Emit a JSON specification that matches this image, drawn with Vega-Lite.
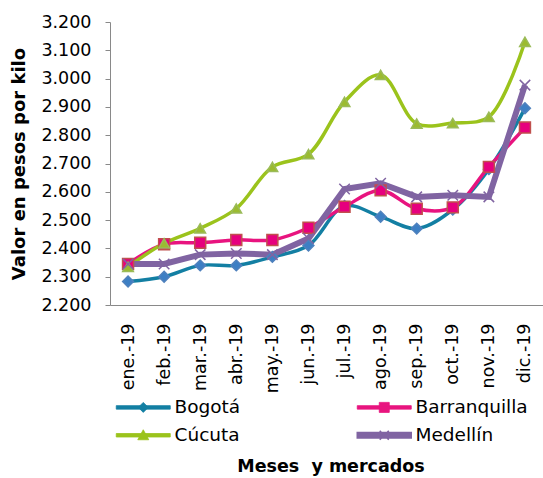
{
  "$schema": "https://vega.github.io/schema/vega-lite/v6.json",
  "autosize": {"type": "none"},
  "padding": {"left": 110, "top": 22, "right": 0, "bottom": 173},
  "width": 433,
  "height": 283,
  "background": "white",
  "config": {
    "view": {"stroke": null},
    "font": "DejaVu Sans",
    "axis": {"grid": false, "domainColor": "#898989", "tickColor": "#898989", "labelFont": "DejaVu Sans", "labelColor": "#000000", "titleColor": "#000000", "titleFont": "DejaVu Sans"},
    "legend": {"labelFont": "DejaVu Sans", "titleFont": "DejaVu Sans"}
  },
  "data": {
    "values": [
      {"mes": "ene.-19", "mercado": "Bogotá", "valor": 2283},
      {"mes": "feb.-19", "mercado": "Bogotá", "valor": 2300},
      {"mes": "mar.-19", "mercado": "Bogotá", "valor": 2340},
      {"mes": "abr.-19", "mercado": "Bogotá", "valor": 2340},
      {"mes": "may.-19", "mercado": "Bogotá", "valor": 2370},
      {"mes": "jun.-19", "mercado": "Bogotá", "valor": 2410},
      {"mes": "jul.-19", "mercado": "Bogotá", "valor": 2550},
      {"mes": "ago.-19", "mercado": "Bogotá", "valor": 2512},
      {"mes": "sep.-19", "mercado": "Bogotá", "valor": 2470},
      {"mes": "oct.-19", "mercado": "Bogotá", "valor": 2537},
      {"mes": "nov.-19", "mercado": "Bogotá", "valor": 2680},
      {"mes": "dic.-19", "mercado": "Bogotá", "valor": 2895},
      {"mes": "ene.-19", "mercado": "Barranquilla", "valor": 2345},
      {"mes": "feb.-19", "mercado": "Barranquilla", "valor": 2415},
      {"mes": "mar.-19", "mercado": "Barranquilla", "valor": 2420},
      {"mes": "abr.-19", "mercado": "Barranquilla", "valor": 2430},
      {"mes": "may.-19", "mercado": "Barranquilla", "valor": 2430},
      {"mes": "jun.-19", "mercado": "Barranquilla", "valor": 2473},
      {"mes": "jul.-19", "mercado": "Barranquilla", "valor": 2547},
      {"mes": "ago.-19", "mercado": "Barranquilla", "valor": 2605},
      {"mes": "sep.-19", "mercado": "Barranquilla", "valor": 2540},
      {"mes": "oct.-19", "mercado": "Barranquilla", "valor": 2545},
      {"mes": "nov.-19", "mercado": "Barranquilla", "valor": 2688},
      {"mes": "dic.-19", "mercado": "Barranquilla", "valor": 2827},
      {"mes": "ene.-19", "mercado": "Cúcuta", "valor": 2335},
      {"mes": "feb.-19", "mercado": "Cúcuta", "valor": 2418},
      {"mes": "mar.-19", "mercado": "Cúcuta", "valor": 2471},
      {"mes": "abr.-19", "mercado": "Cúcuta", "valor": 2541},
      {"mes": "may.-19", "mercado": "Cúcuta", "valor": 2688},
      {"mes": "jun.-19", "mercado": "Cúcuta", "valor": 2733},
      {"mes": "jul.-19", "mercado": "Cúcuta", "valor": 2918},
      {"mes": "ago.-19", "mercado": "Cúcuta", "valor": 3013},
      {"mes": "sep.-19", "mercado": "Cúcuta", "valor": 2841},
      {"mes": "oct.-19", "mercado": "Cúcuta", "valor": 2843},
      {"mes": "nov.-19", "mercado": "Cúcuta", "valor": 2865},
      {"mes": "dic.-19", "mercado": "Cúcuta", "valor": 3130},
      {"mes": "ene.-19", "mercado": "Medellín", "valor": 2345},
      {"mes": "feb.-19", "mercado": "Medellín", "valor": 2345},
      {"mes": "mar.-19", "mercado": "Medellín", "valor": 2378},
      {"mes": "abr.-19", "mercado": "Medellín", "valor": 2382},
      {"mes": "may.-19", "mercado": "Medellín", "valor": 2378},
      {"mes": "jun.-19", "mercado": "Medellín", "valor": 2435},
      {"mes": "jul.-19", "mercado": "Medellín", "valor": 2610},
      {"mes": "ago.-19", "mercado": "Medellín", "valor": 2630},
      {"mes": "sep.-19", "mercado": "Medellín", "valor": 2582},
      {"mes": "oct.-19", "mercado": "Medellín", "valor": 2588},
      {"mes": "nov.-19", "mercado": "Medellín", "valor": 2582},
      {"mes": "dic.-19", "mercado": "Medellín", "valor": 2977}
    ]
  },
  "encoding": {
    "x": {
      "field": "mes", "type": "nominal",
      "scale": {"domain": ["ene.-19","feb.-19","mar.-19","abr.-19","may.-19","jun.-19","jul.-19","ago.-19","sep.-19","oct.-19","nov.-19","dic.-19"], "paddingInner": 0, "paddingOuter": 0.5},
      "axis": {"title": null, "labelAngle": -90, "ticks": false, "tickSize": 0, "labelPadding": 18, "labelFontSize": 17.5, "labelAlign": "right", "labelBaseline": "middle"}
    },
    "y": {
      "field": "valor", "type": "quantitative",
      "scale": {"domain": [2200, 3200], "nice": false, "zero": false},
      "axis": {
        "title": "Valor en pesos por kilo", "titleFontSize": 18, "titleFontWeight": "bold", "titlePadding": 12,
        "values": [2200,2300,2400,2500,2600,2700,2800,2900,3000,3100,3200],
        "labelExpr": "replace(format(datum.value, ','), ',', '.')",
        "labelFontSize": 17.5, "tickSize": 5, "labelPadding": 14
      }
    }
  },
  "layer": [
    {
      "transform": [{"filter": "datum.mercado !== 'Medellín'"}],
      "mark": {"type": "line", "interpolate": "catmull-rom", "strokeWidth": 3.5},
      "encoding": {
        "color": {
          "field": "mercado", "type": "nominal",
          "scale": {"domain": ["Bogotá", "Barranquilla", "Cúcuta", "Medellín"], "range": ["#137fa3", "#e8147f", "#9bc31c", "#8064a2"]},
          "legend": {
            "orient": "none", "direction": "horizontal", "legendX": 24, "legendY": 376, "columns": 2, "columnPadding": 113, "rowPadding": 9,
            "symbolType": "M-5.4,0H5.4", "symbolSize": 100, "symbolStrokeWidth": 1, "labelOffset": 22, "labelFontSize": 18.5, "labelColor": "#000000",
            "title": "Meses\u00a0 y mercados", "titleOrient": "bottom", "titleAnchor": "middle", "titleFontSize": 17.5, "titleFontWeight": "bold", "titleColor": "#000000", "titlePadding": 13, "titleLimit": 500, "padding": 0,
            "values": ["Bogotá", "Barranquilla", "Cúcuta", "Medellín"],
            "encode": {"symbols": {"update": {
              "shape": {"signal": "datum.value === 'Bogotá' ? 'M-5.4,-0.35H5.4V0.35H-5.4ZM0,-1L1,0L0,1L-1,0Z' : datum.value === 'Barranquilla' ? 'M-5.4,-0.35H5.4V0.35H-5.4ZM-1,-1H1V1H-1Z' : datum.value === 'Cúcuta' ? 'M-5.4,-0.35H5.4V0.35H-5.4ZM0,-1.1L1.1,0.9L-1.1,0.9Z' : 'M-5.4,-0.55H5.4V0.55H-5.4ZM-0.9,-0.9L0.9,0.9M-0.9,0.9L0.9,-0.9'"},
              "fill": {"signal": "datum.value === 'Bogotá' ? '#137fa3' : datum.value === 'Barranquilla' ? '#e8147f' : datum.value === 'Cúcuta' ? '#9bc31c' : '#8064a2'"},
              "stroke": {"signal": "datum.value === 'Bogotá' ? '#137fa3' : datum.value === 'Barranquilla' ? '#c0504d' : datum.value === 'Cúcuta' ? '#9bc31c' : '#8064a2'"},
              "strokeWidth": {"signal": "datum.value === 'Medellín' ? 1.5 : 0.8"},
              "opacity": {"value": 1}
            }}}
          }
        }
      }
    },
    {
      "transform": [{"filter": "datum.mercado === 'Medellín'"}],
      "mark": {"type": "line", "interpolate": "linear", "strokeWidth": 6},
      "encoding": {"color": {"field": "mercado", "type": "nominal"}}
    },
    {
      "mark": {"type": "point", "filled": true, "strokeWidth": 1.5, "opacity": 1},
      "encoding": {
        "shape": {
          "field": "mercado", "type": "nominal",
          "scale": {"range": ["square", "diamond", "triangle-up", "M-1,-1L1,1M-1,1L1,-1"]},
          "legend": null
        },
        "fill": {
          "field": "mercado", "type": "nominal",
          "scale": {"range": ["#e6007e", "#3d7fc4", "#9bbb30", "#8064a2"]},
          "legend": null
        },
        "stroke": {
          "field": "mercado", "type": "nominal",
          "scale": {"range": ["#c0504d", "#4f81bd", "#9bbb59", "#8064a2"]},
          "legend": null
        },
        "size": {
          "field": "mercado", "type": "nominal",
          "scale": {"range": [120, 110, 150, 300]},
          "legend": null
        }
      }
    }
  ]
}
